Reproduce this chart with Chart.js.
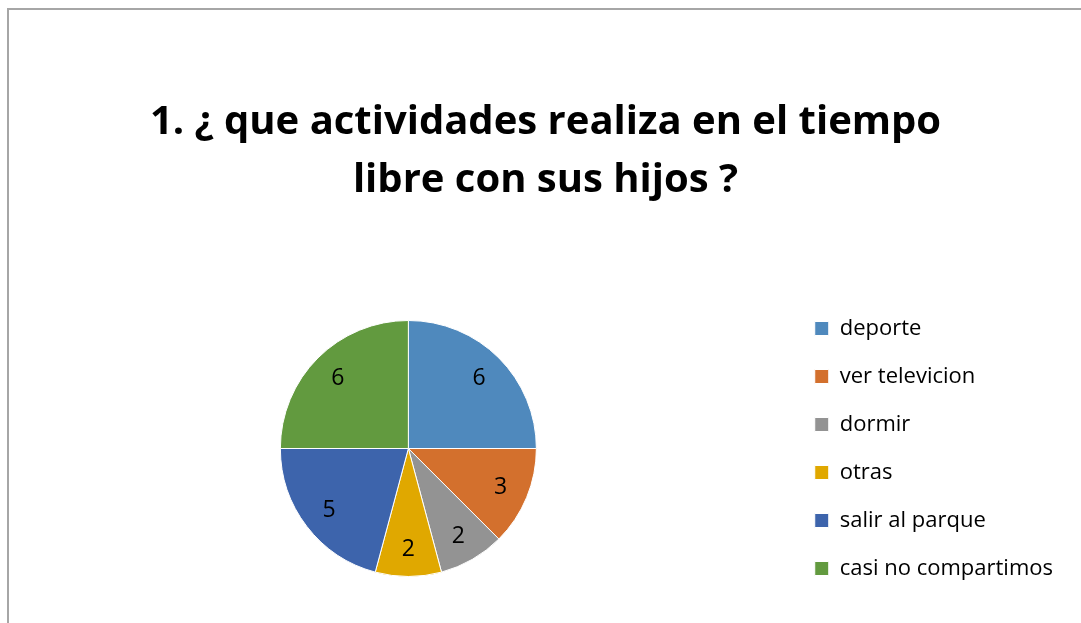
<!DOCTYPE html>
<html>
<head>
<meta charset="utf-8">
<script src="https://cdn.jsdelivr.net/npm/chart.js@4/dist/chart.umd.min.js"></script>
<style>
  html, body { margin: 0; padding: 0; background: #ffffff; }
  #wrap { width: 1081px; height: 623px; position: relative; }
</style>
</head>
<body>
<div id="wrap"><canvas id="c" width="1081" height="623"></canvas></div>
<script>
const titleLines = ['1. ¿ que actividades realiza en el tiempo', 'libre con sus hijos ?'];
const categories = ['deporte', 'ver televicion', 'dormir', 'otras', 'salir al parque', 'casi no compartimos'];
const values = [6, 3, 2, 2, 5, 6];
const colors = ['#4F89BD', '#D3702D', '#939393', '#E0A800', '#3D64AC', '#629A3F'];

const FONT = '"Open Sans", "Noto Sans", "Liberation Sans", sans-serif';

const borderPlugin = {
  id: 'frame',
  beforeDraw(chart) {
    const ctx = chart.ctx;
    ctx.save();
    ctx.fillStyle = '#ffffff';
    ctx.fillRect(0, 0, chart.width, chart.height);
    ctx.strokeStyle = '#A6A6A6';
    ctx.lineWidth = 2;
    ctx.strokeRect(8, 9, chart.width + 50, chart.height + 50);
    ctx.restore();
  }
};

const valueLabels = {
  id: 'valueLabels',
  afterDatasetsDraw(chart) {
    const ctx = chart.ctx;
    const meta = chart.getDatasetMeta(0);
    ctx.save();
    ctx.fillStyle = '#000000';
    ctx.font = '23px ' + FONT;
    ctx.textAlign = 'center';
    ctx.textBaseline = 'middle';
    meta.data.forEach((arc, i) => {
      const p = arc.getProps(['x', 'y', 'startAngle', 'endAngle', 'outerRadius'], true);
      const mid = (p.startAngle + p.endAngle) / 2;
      const r = p.outerRadius * 0.78;
      ctx.fillText(String(chart.data.datasets[0].data[i]), p.x + Math.cos(mid) * r, p.y + Math.sin(mid) * r + 1);
    });
    ctx.restore();
  }
};

new Chart(document.getElementById('c'), {
  type: 'pie',
  data: {
    labels: categories,
    datasets: [{
      data: values,
      backgroundColor: colors,
      borderColor: '#ffffff',
      borderWidth: 1,
      radius: 128
    }]
  },
  options: {
    responsive: false,
    animation: false,
    layout: { padding: { left: 28, right: 18, top: 0, bottom: 11 } },
    plugins: {
      tooltip: { enabled: false },
      title: {
        display: true,
        text: titleLines,
        color: '#000000',
        font: { family: FONT, size: 40, weight: 'bold', lineHeight: 1.45 },
        padding: { top: 94, bottom: 75 }
      },
      legend: {
        display: true,
        position: 'right',
        align: 'center',
        fullSize: false,
        labels: {
          boxWidth: 14,
          boxHeight: 14,
          padding: 26,
          color: '#000000',
          font: { family: FONT, size: 22 }
        }
      }
    }
  },
  plugins: [borderPlugin, valueLabels]
});
</script>
</body>
</html>
